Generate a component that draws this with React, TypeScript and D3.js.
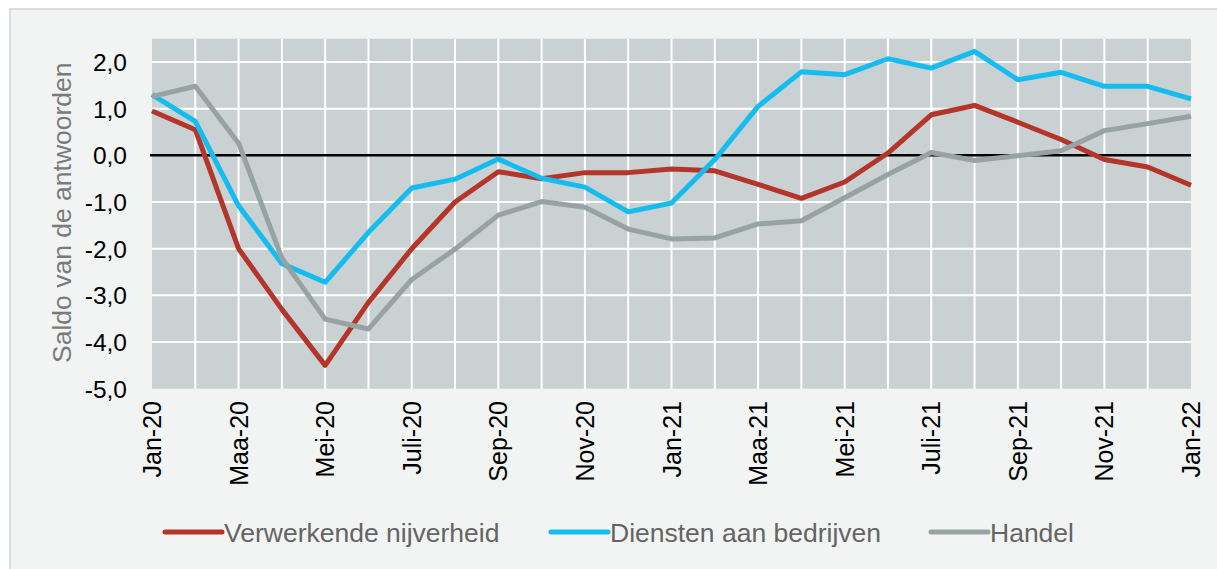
import React from "react";
import * as d3 from "d3";

// months Jan-20 .. Jan-22 (25 points)
const months = [
  "Jan-20", "Feb-20", "Maa-20", "Apr-20", "Mei-20", "Jun-20", "Juli-20", "Aug-20",
  "Sep-20", "Okt-20", "Nov-20", "Dec-20", "Jan-21", "Feb-21", "Maa-21", "Apr-21",
  "Mei-21", "Jun-21", "Juli-21", "Aug-21", "Sep-21", "Okt-21", "Nov-21", "Dec-21", "Jan-22",
];

const verwerkende = [
  0.95, 0.55, -2.0, -3.3, -4.5, -3.15, -2.0, -1.0, -0.35, -0.5, -0.37, -0.37, -0.29,
  -0.33, -0.62, -0.92, -0.57, 0.05, 0.87, 1.07, 0.71, 0.34, -0.09, -0.25, -0.64,
];
const diensten = [
  1.3, 0.73, -1.08, -2.32, -2.72, -1.65, -0.7, -0.51, -0.08, -0.49, -0.68, -1.21, -1.02,
  -0.09, 1.05, 1.79, 1.73, 2.07, 1.87, 2.23, 1.62, 1.78, 1.48, 1.48, 1.21,
];
const handel = [
  1.26, 1.48, 0.26, -2.2, -3.51, -3.72, -2.66, -2.01, -1.28, -0.99, -1.11, -1.58, -1.79,
  -1.77, -1.47, -1.4, -0.91, -0.41, 0.06, -0.11, -0.01, 0.1, 0.53, 0.68, 0.84,
];

const yTicks = [2, 1, 0, -1, -2, -3, -4, -5];

const series = [
  { name: "Verwerkende nijverheid", values: verwerkende, color: "#b4352a" },
  { name: "Diensten aan bedrijven", values: diensten, color: "#14bcef" },
  { name: "Handel", values: handel, color: "#97a3a2" },
];

const W = 1217;
const H = 569;
const plot = { left: 152, right: 1191, top: 38.7, bottom: 388.7 };
const font = "'Liberation Sans', Arial, sans-serif";

export default function App() {
  const x = d3.scaleLinear().domain([0, months.length - 1]).range([plot.left, plot.right]);
  const y = d3.scaleLinear().domain([-5, 2.5]).range([plot.bottom, plot.top]);

  const line = d3
    .line<number>()
    .x((_, i) => x(i))
    .y((d) => y(d));

  // legend positions: sample start, text start
  const legend = [
    { sx: 165, tx: 224 },
    { sx: 551, tx: 610 },
    { sx: 931, tx: 990 },
  ];

  return (
    <svg
      width={W}
      height={H}
      style={{ position: "absolute", left: 0, top: 0, background: "#ffffff" }}
      fontFamily={font}
    >
      {/* outer frame */}
      <rect x={10} y={9} width={W + 10} height={H + 10} fill="#f2f4f3" stroke="#dadcdc" strokeWidth={2} />

      {/* plot background */}
      <rect
        x={plot.left}
        y={plot.top}
        width={plot.right - plot.left}
        height={plot.bottom - plot.top}
        fill="#c9d1d2"
      />

      {/* vertical grid */}
      {months.map((m, i) =>
        i === 0 || i === months.length - 1 ? null : (
          <line key={m} x1={x(i)} x2={x(i)} y1={plot.top} y2={plot.bottom} stroke="#ffffff" strokeWidth={2} />
        )
      )}
      {/* horizontal grid */}
      {yTicks
        .filter((t) => t !== 0 && t !== -5)
        .map((t) => (
          <line key={t} x1={plot.left} x2={plot.right} y1={y(t)} y2={y(t)} stroke="#ffffff" strokeWidth={2} />
        ))}

      {/* zero line */}
      <line x1={plot.left - 2} x2={plot.right} y1={y(0)} y2={y(0)} stroke="#000000" strokeWidth={2.5} />

      {/* series */}
      {series.map((s) => (
        <path
          key={s.name}
          d={line(s.values) || ""}
          fill="none"
          stroke={s.color}
          strokeWidth={5}
          strokeLinejoin="round"
        />
      ))}

      {/* y tick labels */}
      {yTicks.map((t) => (
        <text key={t} x={127} y={y(t)} dy="0.36em" textAnchor="end" fontSize={24.5} fill="#000000">
          {d3.format(".1f")(t).replace(".", ",").replace("−", "-")}
        </text>
      ))}

      {/* y axis title */}
      <text
        transform={`translate(62,${(plot.top + plot.bottom) / 2 - 1}) rotate(-90)`}
        dy="0.35em"
        textAnchor="middle"
        fontSize={26.5}
        fill="#7a7a7a"
      >
        Saldo van de antwoorden
      </text>

      {/* x tick labels */}
      {months.map((m, i) =>
        i % 2 === 0 ? (
          <text
            key={m}
            transform={`translate(${x(i)},401) rotate(-90)`}
            dy="0.36em"
            textAnchor="end"
            fontSize={25}
            fill="#000000"
          >
            {m}
          </text>
        ) : null
      )}

      {/* legend */}
      {series.map((s, i) => (
        <g key={s.name}>
          <line
            x1={legend[i].sx}
            x2={legend[i].sx + 57}
            y1={532}
            y2={532}
            stroke={s.color}
            strokeWidth={5}
            strokeLinecap="round"
          />
          <text x={legend[i].tx} y={532} dy="0.36em" fontSize={26.5} fill="#646464">
            {s.name}
          </text>
        </g>
      ))}
    </svg>
  );
}
